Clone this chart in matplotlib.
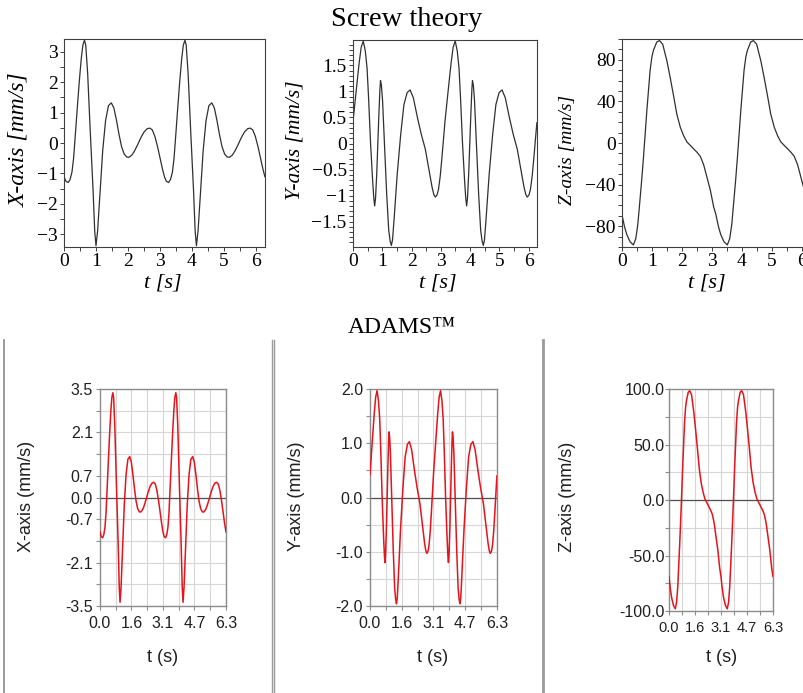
import numpy as np
import matplotlib
matplotlib.use('Agg')
import matplotlib.pyplot as plt
from matplotlib.ticker import FixedLocator, MultipleLocator, FuncFormatter
from matplotlib.lines import Line2D

# ---------------- data ----------------
t_x = [0.00, 0.06, 0.13, 0.19, 0.25, 0.30, 0.36, 0.42, 0.48, 0.54, 0.59, 0.64, 0.68, 0.74, 0.82,
       0.91, 0.96, 1.00, 1.05, 1.13, 1.21, 1.30, 1.39, 1.48, 1.56, 1.64, 1.72, 1.80, 1.88, 1.96,
       2.03, 2.12, 2.20, 2.30, 2.40, 2.50, 2.60, 2.68, 2.76, 2.84, 2.92, 3.00, 3.07,
       3.14, 3.20, 3.27, 3.33, 3.39, 3.44, 3.50, 3.56, 3.62, 3.68, 3.73, 3.78, 3.82, 3.88, 3.96,
       4.05, 4.10, 4.14, 4.19, 4.27, 4.35, 4.44, 4.53, 4.62, 4.70, 4.78, 4.86, 4.94, 5.02, 5.10,
       5.17, 5.26, 5.34, 5.44, 5.54, 5.64, 5.74, 5.82, 5.90, 5.98, 6.06, 6.14, 6.21, 6.28]
vel_x = [-1.11, -1.26, -1.30, -1.20, -0.95, -0.50, 0.35, 1.22, 2.05, 2.78, 3.22, 3.38, 3.22, 2.28, 0.40,
         -1.58, -2.90, -3.38, -2.90, -1.58, -0.25, 0.74, 1.23, 1.32, 1.15, 0.75, 0.28, -0.12, -0.36, -0.46,
         -0.47, -0.40, -0.27, -0.06, 0.17, 0.36, 0.47, 0.49, 0.43, 0.22, -0.10, -0.48, -0.82,
         -1.11, -1.26, -1.30, -1.20, -0.95, -0.50, 0.35, 1.22, 2.05, 2.78, 3.22, 3.38, 3.22, 2.28, 0.40,
         -1.58, -2.90, -3.38, -2.90, -1.58, -0.25, 0.74, 1.23, 1.32, 1.15, 0.75, 0.28, -0.12, -0.36, -0.46,
         -0.47, -0.40, -0.27, -0.06, 0.17, 0.36, 0.47, 0.49, 0.43, 0.22, -0.10, -0.48, -0.82, -1.11]

t_y = [0.00, 0.07, 0.14, 0.21, 0.28, 0.35, 0.42, 0.48, 0.53, 0.60, 0.67, 0.71, 0.74, 0.77, 0.81,
       0.88, 0.92, 0.94, 0.97, 1.01, 1.08, 1.15, 1.22, 1.27, 1.31, 1.35, 1.40, 1.51, 1.63, 1.74,
       1.85, 1.95, 2.06, 2.20, 2.33, 2.47, 2.58, 2.70, 2.76, 2.81, 2.87, 2.92, 2.98, 3.04, 3.10,
       3.14, 3.21, 3.28, 3.35, 3.42, 3.49, 3.56, 3.62, 3.67, 3.74, 3.81, 3.85, 3.88, 3.91, 3.95,
       4.02, 4.06, 4.08, 4.11, 4.15, 4.22, 4.29, 4.36, 4.41, 4.45, 4.49, 4.54, 4.65, 4.77, 4.88,
       4.99, 5.09, 5.20, 5.34, 5.47, 5.61, 5.72, 5.84, 5.90, 5.95, 6.01, 6.06, 6.12, 6.18, 6.24, 6.28]
vel_y = [0.42, 0.80, 1.18, 1.55, 1.85, 1.97, 1.78, 1.45, 0.90, 0.00, -0.71, -1.05, -1.20, -1.05, -0.59,
         0.50, 1.05, 1.21, 1.12, 0.82, -0.08, -0.97, -1.67, -1.88, -1.96, -1.85, -1.48, -0.59, 0.18, 0.75,
         0.98, 1.03, 0.88, 0.50, 0.18, -0.11, -0.46, -0.84, -0.98, -1.03, -0.99, -0.88, -0.62, -0.25, 0.15,
         0.42, 0.80, 1.18, 1.55, 1.85, 1.97, 1.78, 1.45, 0.90, 0.00, -0.71, -1.05, -1.20, -1.05, -0.59,
         0.50, 1.05, 1.21, 1.12, 0.82, -0.08, -0.97, -1.67, -1.88, -1.96, -1.85, -1.48, -0.59, 0.18, 0.75,
         0.98, 1.03, 0.88, 0.50, 0.18, -0.11, -0.46, -0.84, -0.98, -1.03, -0.99, -0.88, -0.62, -0.25, 0.15, 0.40]

t_z = [0.00, 0.08, 0.16, 0.27, 0.38, 0.46, 0.53, 0.60, 0.66, 0.72, 0.83, 0.94, 1.00, 1.05, 1.16, 1.25,
       1.36, 1.50, 1.61, 1.72, 1.83, 1.95, 2.06, 2.17, 2.34, 2.51, 2.62, 2.73, 2.84, 2.95, 3.06,
       3.14, 3.22, 3.30, 3.41, 3.52, 3.60, 3.67, 3.74, 3.80, 3.86, 3.97, 4.08, 4.14, 4.19, 4.30, 4.39,
       4.50, 4.64, 4.75, 4.86, 4.97, 5.09, 5.20, 5.31, 5.48, 5.65, 5.76, 5.87, 5.98, 6.09, 6.20, 6.28]
vel_z = [-69, -80, -88, -95, -98, -92, -78, -55, -35, -13, 31, 70, 83, 89, 97, 98.5,
         95, 79, 63, 46, 28, 15, 7, 1, -4, -9, -13, -21, -33, -45, -61,
         -69, -80, -88, -95, -98, -92, -78, -55, -35, -13, 31, 70, 83, 89, 97, 98.5,
         95, 79, 63, 46, 28, 15, 7, 1, -4, -9, -13, -21, -33, -45, -61, -69]

top_title = "Screw theory"
bottom_title = "ADAMS\u2122"
top_ylabels = ["X-axis [mm/s]", "Y-axis [mm/s]", "Z-axis [mm/s]"]
top_xlabel = "t [s]"
bot_ylabels = ["X-axis (mm/s)", "Y-axis (mm/s)", "Z-axis (mm/s)"]
bot_xlabel = "t (s)"

top_major = [[-3, -2, -1, 0, 1, 2, 3],
             [-1.5, -1, -0.5, 0, 0.5, 1, 1.5],
             [-80, -40, 0, 40, 80]]
top_minor_step = [0.5, 0.1, 10]
top_ylim = [(-3.42, 3.42), (-1.99, 1.99), (-100, 100)]
top_xticks = [0, 1, 2, 3, 4, 5, 6]

bot_ygrid_step = [0.7, 0.5, 25.0]
bot_ylim = [(-3.5, 3.5), (-2.0, 2.0), (-100.0, 100.0)]
bot_ylabelled = [[-3.5, -2.1, -0.7, 0.0, 0.7, 2.1, 3.5],
                 [-2.0, -1.0, 0.0, 1.0, 2.0],
                 [-100.0, -50.0, 0.0, 50.0, 100.0]]

# ---------------- figure ----------------
W, H = 804, 693
fig = plt.figure(figsize=(W / 100, H / 100), dpi=100)
fig.patch.set_facecolor('white')

def ax_px(l, t, r, b):
    return fig.add_axes([l / W, 1 - b / H, (r - l) / W, (b - t) / H])

def fx(x):
    return x / W

def fy(y):
    return 1 - y / H

serif = 'Liberation Serif'
sans = 'Liberation Sans'

def maple_fmt(v, pos=None):
    s = f"{v:g}"
    return s.replace('-', '\u2212')

# ---- top row (Maple style) ----
top_boxes = [(64, 39, 265, 247), (353, 40, 537, 247), (622, 39, 810, 247)]
top_series = [(t_x, vel_x), (t_y, vel_y), (t_z, vel_z)]
top_ylab_pos = [(19, 140), (295, 140), (568, 150)]
top_ylab_size = [17, 15.5, 14]
top_tick_size = [14, 14, 14]
top_xlab_pos = [(163, 283), (438, 283), (707, 283)]

for i in range(3):
    ax = ax_px(*top_boxes[i])
    t, v = top_series[i]
    ax.plot(t, v, color='#303030', lw=0.9)
    ax.set_xlim(0, 2 * np.pi)
    ax.set_ylim(*top_ylim[i])
    ax.xaxis.set_major_locator(FixedLocator(top_xticks))
    ax.xaxis.set_minor_locator(MultipleLocator(0.5))
    ax.yaxis.set_major_locator(FixedLocator(top_major[i]))
    ax.yaxis.set_minor_locator(MultipleLocator(top_minor_step[i]))
    ax.xaxis.set_major_formatter(FuncFormatter(maple_fmt))
    ax.yaxis.set_major_formatter(FuncFormatter(maple_fmt))
    for sp in ax.spines.values():
        sp.set_color('#404040')
        sp.set_linewidth(0.8)
    ax.tick_params(which='both', direction='out', length=3, width=0.7, color='#404040',
                   top=False, right=False)
    ax.tick_params(which='major', labelsize=top_tick_size[i], pad=1.5)
    for lab in ax.get_xticklabels() + ax.get_yticklabels():
        lab.set_family(serif)
    ax.set_facecolor('white')
    fig.text(fx(top_ylab_pos[i][0]), fy(top_ylab_pos[i][1]), top_ylabels[i], rotation=90,
             ha='center', va='center', family=serif, style='italic', fontsize=top_ylab_size[i])
    fig.text(fx(top_xlab_pos[i][0]), fy(top_xlab_pos[i][1]), top_xlabel,
             ha='center', va='center', family=serif, style='italic', fontsize=16)

fig.text(fx(407), fy(26), top_title, ha='center', va='baseline', family=serif, fontsize=20.5)
fig.text(fx(402), fy(333), bottom_title, ha='center', va='baseline', family=serif, fontsize=17)

# ---- bottom row (ADAMS style) ----
bot_boxes = [(100, 389, 226, 606), (370, 389, 497, 606), (669, 389, 773, 611)]
bot_series = top_series
bot_ylab_pos = [(27, 496), (297, 496), (568, 497)]
bot_xlab_pos = [(163, 658), (433, 658), (722, 658)]
bot_xtick_size = [11.5, 11.5, 10.5]
bot_ypad = [2, 2, 0]

xt_all = [k * np.pi / 4 for k in range(9)]
xt_lab = [f"{x:.1f}" if k % 2 == 0 else "" for k, x in enumerate(xt_all)]

for i in range(3):
    ax = ax_px(*bot_boxes[i])
    t, v = bot_series[i]
    lo, hi = bot_ylim[i]
    step = bot_ygrid_step[i]
    n = int(round((hi - lo) / step))
    yt_all = [lo + k * step for k in range(n + 1)]
    labelled = bot_ylabelled[i]
    yt_lab = []
    for y in yt_all:
        if any(abs(y - L) < 1e-6 for L in labelled):
            yt_lab.append(f"{y:.1f}")
        else:
            yt_lab.append("")
    ax.set_xlim(0, 2 * np.pi)
    ax.set_ylim(lo, hi)
    ax.set_xticks(xt_all)
    ax.set_xticklabels(xt_lab)
    ax.set_yticks(yt_all)
    ax.set_yticklabels(yt_lab)
    ax.grid(True, color='#d6d6d6', lw=0.8)
    ax.set_axisbelow(True)
    ax.axhline(0, color='#505050', lw=0.9, zorder=1.5)
    ax.plot(t, v, color='#e3141b', lw=1.1, zorder=3)
    for sp in ax.spines.values():
        sp.set_color('#8c8c8c')
        sp.set_linewidth(1.0)
    ax.tick_params(which='both', direction='out', length=3, width=0.8, color='#8c8c8c')
    ax.tick_params(axis='y', labelsize=11.5, pad=bot_ypad[i])
    ax.tick_params(axis='x', labelsize=bot_xtick_size[i], pad=4)
    for lab in ax.get_xticklabels() + ax.get_yticklabels():
        lab.set_family(sans)
        lab.set_color('#202020')
    fig.text(fx(bot_ylab_pos[i][0]), fy(bot_ylab_pos[i][1]), bot_ylabels[i], rotation=90,
             ha='center', va='center', family=sans, fontsize=13, color='#202020')
    fig.text(fx(bot_xlab_pos[i][0]), fy(bot_xlab_pos[i][1]), bot_xlabel,
             ha='center', va='center', family=sans, fontsize=13, color='#202020')

# panel separators
for xpix, col, lw in [(4.3, '#8a8a8a', 1.2), (271.7, '#9a9a9a', 1.0), (274.3, '#9a9a9a', 1.0),
                      (543.3, '#9a9a9a', 2.0)]:
    fig.add_artist(Line2D([fx(xpix), fx(xpix)], [fy(340), fy(693)], color=col, lw=lw))

fig.savefig('out.png', dpi=100)
